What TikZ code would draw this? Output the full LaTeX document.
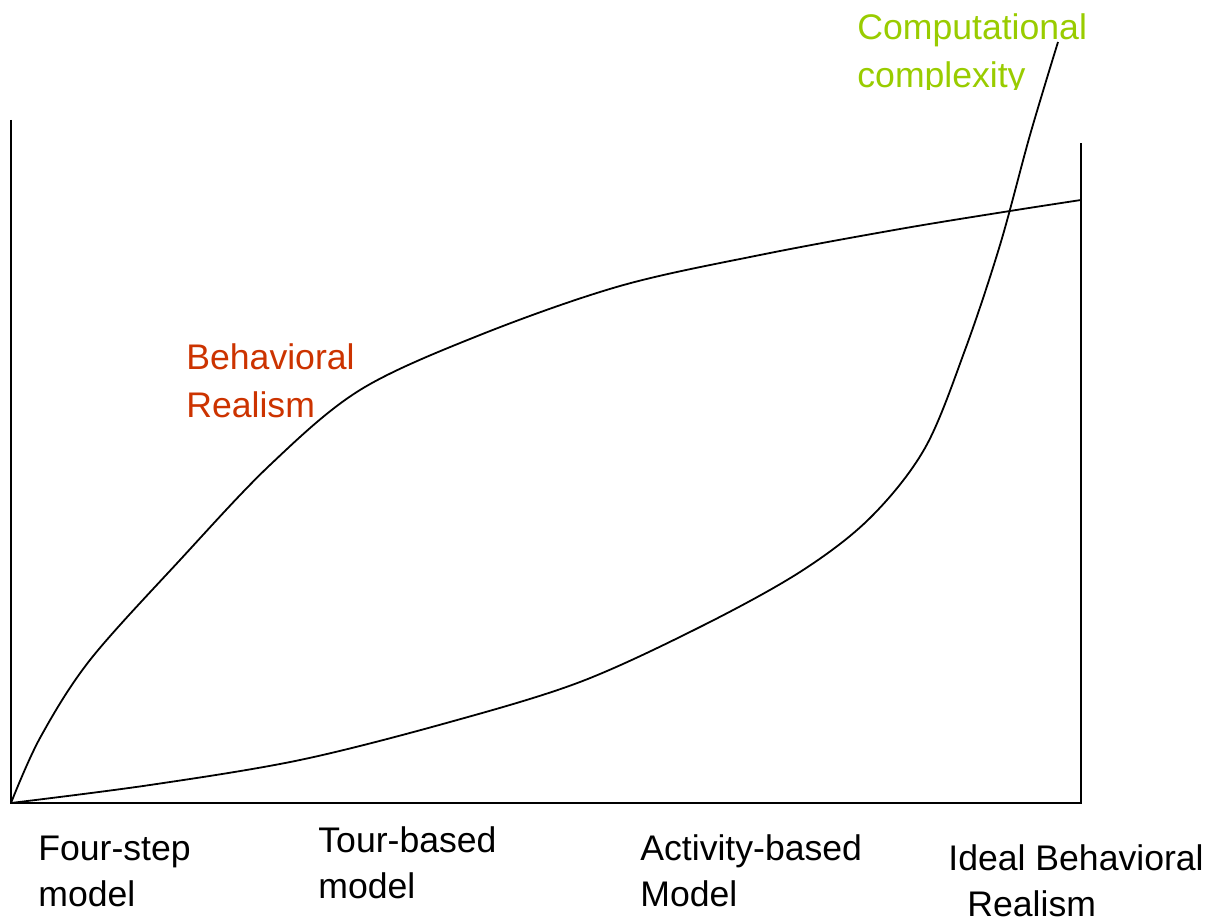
\documentclass[tikz,border=0pt]{standalone}
\usepackage{fontspec}
\setmainfont{Liberation Sans}
\definecolor{realismcol}{HTML}{CC3300}
\definecolor{complexcol}{HTML}{99CC00}
\begin{document}
\begin{tikzpicture}[x=0.5pt,y=-0.5pt,
  lbl/.style={anchor=base west, inner sep=0pt, font=\fontsize{17.8}{24}\selectfont},
  axis/.style={line width=1pt, black},
  curve/.style={line width=0.9pt, black, line join=round}]
\useasboundingbox (0,0) rectangle (1210,924);
% axes
\coordinate (top) at (11,120);
\coordinate (origin) at (11,803);
\coordinate (br) at (1081,803);
\coordinate (rt) at (1081,143);
\draw[axis] (top) -- (origin) -- (br) -- (rt);
% behavioral realism curve
\draw[curve] plot[smooth, tension=0.55] coordinates {(11,803) (40,738) (90,660) (180,560) (270,465) (360,390) (480,335) (620,286) (760,255) (900,229) (1010,211) (1081,200)};
% computational complexity curve
\draw[curve] plot[smooth, tension=0.55] coordinates {(11,803) (150,785) (300,760) (450,722) (580,682) (700,627) (800,572) (870,518) (925,448) (965,350) (1000,245) (1030,135) (1058,42)};
% labels
\node[lbl, text=realismcol] (br1) at (186,370) {Behavioral};
\node[lbl, text=realismcol] (br2) at (186,418) {Realism};
\begin{scope}
\clip (840,0) rectangle (1100,90);
\node[lbl, text=complexcol] (cc1) at (857,40) {Computational};
\node[lbl, text=complexcol] (cc2) at (857,88) {complexity};
\end{scope}
\node[lbl] (fs1) at (38,860) {Four-step};
\node[lbl] (fs2) at (38,906) {model};
\node[lbl] (tb1) at (318,852) {Tour-based};
\node[lbl] (tb2) at (318,898) {model};
\node[lbl] (ab1) at (640,860) {Activity-based};
\node[lbl] (ab2) at (640,906) {Model};
\node[lbl] (ib1) at (948,870) {Ideal Behavioral};
\node[lbl] (ib2) at (967,916) {Realism};
\end{tikzpicture}
\end{document}
